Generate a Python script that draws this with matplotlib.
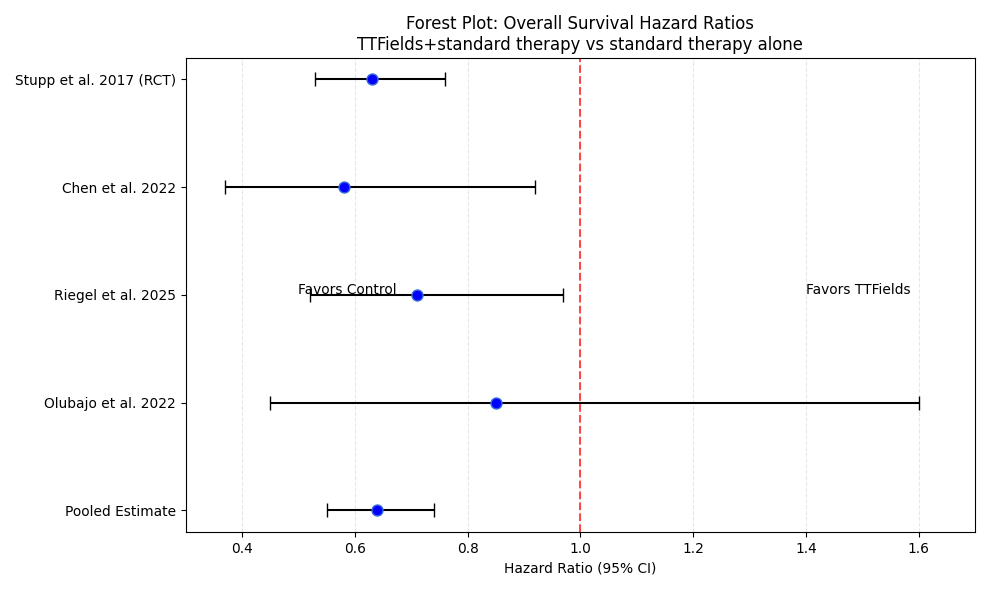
import matplotlib.pyplot as plt

studies = ["Stupp et al. 2017 (RCT)", "Chen et al. 2022", "Riegel et al. 2025", "Olubajo et al. 2022", "Pooled Estimate"]
hr = [0.63, 0.58, 0.71, 0.85, 0.64]
lower = [0.53, 0.37, 0.52, 0.45, 0.55]
upper = [0.76, 0.92, 0.97, 1.60, 0.74]

fig, ax = plt.subplots(figsize=(10, 590/99), dpi=99)
y = list(range(len(studies) - 1, -1, -1))
xerr = [[h - l for h, l in zip(hr, lower)], [u - h for h, u in zip(hr, upper)]]
ax.errorbar(hr, y, xerr=xerr, fmt='o', color='black', ecolor='black', capsize=5,
            markersize=8, markerfacecolor='blue', markeredgecolor='#3a6fd8', elinewidth=1.5)
ax.axvline(1.0, color='red', linestyle='--', alpha=0.7, linewidth=1.5)
ax.set_yticks(y)
ax.set_yticklabels(studies)
ax.set_xlim(0.3, 1.7)
ax.set_xlabel("Hazard Ratio (95% CI)")
ax.set_title("Forest Plot: Overall Survival Hazard Ratios\nTTFields+standard therapy vs standard therapy alone")
ax.grid(axis='x', linestyle='--', alpha=0.3)
ax.text(0.5, 2.05, "Favors Control", ha='left', va='center')
ax.text(1.4, 2.05, "Favors TTFields", ha='left', va='center')
plt.tight_layout()
plt.savefig("out.png")
